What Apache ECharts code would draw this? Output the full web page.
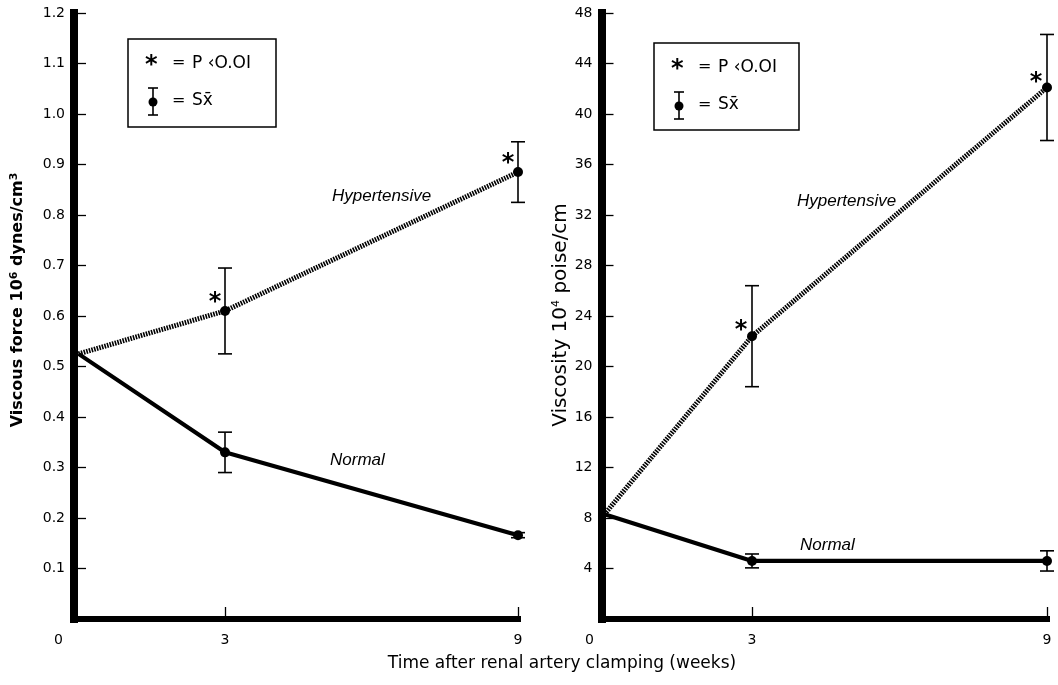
<!DOCTYPE html>
<html>
<head>
<meta charset="utf-8">
<script src="https://cdn.jsdelivr.net/npm/echarts@6/dist/echarts.min.js"></script>
<style>
  html, body { margin: 0; padding: 0; background: #fff; }
  #chart { width: 1058px; height: 685px; }
</style>
</head>
<body>
<div id="chart"></div>
<script>
// weeks after renal artery clamping
var weeks = [0, 3, 9];
var xLabels = [0, 3, 9];
// viscous force, 10^6 dynes/cm^3
var forceHyp = [0.525, 0.61, 0.885];
var forceHypErr = [0, 0.085, 0.06];
var forceNorm = [0.525, 0.33, 0.166];
var forceNormErr = [0, 0.04, 0.005];
// viscosity, 10^4 poise/cm
var viscHyp = [8.3, 22.4, 42.1];
var viscHypErr = [0, 4.0, 4.2];
var viscNorm = [8.3, 4.6, 4.6];
var viscNormErr = [0, 0.55, 0.8];
// weeks with P < 0.01 (hypertensive)
var starWeeks = [3, 9];

var myChart = echarts.init(document.getElementById('chart'));

function pairs(xs, ys) {
    return xs.map(function (x, i) { return [x, ys[i]]; });
}
function errData(xs, ys, es) {
    var out = [];
    for (var i = 0; i < xs.length; i++) {
        if (es[i] > 0) out.push([xs[i], ys[i] - es[i], ys[i] + es[i]]);
    }
    return out;
}
function starData(xs, ys) {
    return starWeeks.map(function (w) { return [w, ys[xs.indexOf(w)]]; });
}

function renderErr(params, api) {
    var x = api.value(0);
    var lo = api.coord([x, api.value(1)]);
    var hi = api.coord([x, api.value(2)]);
    var w = 7;
    var st = { stroke: '#000', lineWidth: 1.6 };
    return {
        type: 'group',
        children: [
            { type: 'line', shape: { x1: lo[0], y1: lo[1], x2: hi[0], y2: hi[1] }, style: st },
            { type: 'line', shape: { x1: lo[0] - w, y1: lo[1], x2: lo[0] + w, y2: lo[1] }, style: st },
            { type: 'line', shape: { x1: hi[0] - w, y1: hi[1], x2: hi[0] + w, y2: hi[1] }, style: st }
        ]
    };
}

var font = 'DejaVu Sans';

function xAxisCfg(grid, shift) {
    return {
        type: 'value', gridIndex: grid, min: 0, max: 9,
        axisLine: { show: true, onZero: false, lineStyle: { color: '#000', width: 6, cap: 'square' } },
        axisTick: { show: true, inside: true, length: 12, customValues: [3, 9], lineStyle: { color: '#000', width: 1.3 } },
        axisLabel: {
            customValues: xLabels, margin: 14, color: '#000', fontFamily: font, fontSize: 14,
            formatter: function (v) { return v === 0 ? '{z|0}' : String(v); },
            rich: { z: { fontFamily: font, fontSize: 14, color: '#000', padding: [0, shift, 0, 0] } }
        },
        splitLine: { show: false }
    };
}

function yAxisCfg(grid, max, step, off, fmt) {
    return {
        type: 'value', gridIndex: grid, min: 0, max: max, interval: step, offset: off,
        axisLine: { show: true, onZero: false, lineStyle: { color: '#000', width: 8, cap: 'square' } },
        axisTick: { show: true, inside: true, length: 12, lineStyle: { color: '#000', width: 1.3 } },
        axisLabel: { margin: 9, color: '#000', fontFamily: font, fontSize: 14, formatter: fmt },
        splitLine: { show: false }
    };
}

function lineSeries(axis, data, dotted) {
    return {
        type: 'line', xAxisIndex: axis, yAxisIndex: axis, data: data,
        symbol: 'circle',
        symbolSize: function (v, p) { return p.dataIndex === 0 ? 0 : 10; },
        itemStyle: { color: '#000' },
        lineStyle: dotted ? { color: '#000', width: 5, type: [1.6, 1.1] } : { color: '#000', width: 4.2 },
        animation: false, z: 3
    };
}
function errSeries(axis, data) {
    return {
        type: 'custom', xAxisIndex: axis, yAxisIndex: axis, data: data,
        encode: { x: 0, y: [1, 2] }, renderItem: renderErr, animation: false, z: 4
    };
}
function starSeries(axis, data, dx, dy) {
    return {
        type: 'scatter', xAxisIndex: axis, yAxisIndex: axis, data: data,
        symbolSize: 0, animation: false, silent: true,
        itemStyle: { color: '#000', opacity: 1 },
        label: {
            show: true, formatter: '*', position: 'inside', offset: [dx, dy],
            color: '#000', opacity: 1, fontFamily: font, fontSize: 24, fontWeight: 'bold'
        }
    };
}

function legendBox(x, y, w, h) {
    function txt(dx, dy, s, f) {
        return { type: 'text', left: x + dx, top: y + dy, style: { text: s, fill: '#000', font: f || '17px "DejaVu Sans"' } };
    }
    var ex = x + 25;
    return [
        { type: 'rect', shape: { x: x, y: y, width: w, height: h }, style: { fill: 'none', stroke: '#000', lineWidth: 1.5 } },
        txt(17, 15, '*', 'bold 24px "DejaVu Sans"'),
        txt(44, 16, '=', '16px "DejaVu Sans"'),
        txt(64, 16, 'P \u2039O.OI'),
        { type: 'line', shape: { x1: ex, y1: y + 49, x2: ex, y2: y + 76 }, style: { stroke: '#000', lineWidth: 1.6 } },
        { type: 'line', shape: { x1: ex - 5, y1: y + 49, x2: ex + 5, y2: y + 49 }, style: { stroke: '#000', lineWidth: 1.6 } },
        { type: 'line', shape: { x1: ex - 5, y1: y + 76, x2: ex + 5, y2: y + 76 }, style: { stroke: '#000', lineWidth: 1.6 } },
        { type: 'circle', shape: { cx: ex, cy: y + 63, r: 4.5 }, style: { fill: '#000' } },
        txt(44, 54, '=', '16px "DejaVu Sans"'),
        txt(64, 53, 'Sx\u0304')
    ];
}

function tag(x, y, s) {
    return { type: 'text', left: x, top: y, style: { text: s, fill: '#000', font: 'italic 17px "Liberation Sans"' } };
}

function axisName(x, y, parts, bold, size) {
    var w = bold ? 'bold' : 'normal';
    return {
        type: 'text', x: x, y: y, rotation: Math.PI / 2,
        style: {
            text: parts, align: 'center', verticalAlign: 'middle', fill: '#000',
            rich: {
                t: { fontFamily: font, fontSize: size, fontWeight: w, fill: '#000' },
                s: { fontFamily: font, fontSize: 11, fontWeight: w, fill: '#000', verticalAlign: 'top', padding: [0, 0, 8, 0] }
            }
        }
    };
}

var graphics = []
    .concat(legendBox(128, 39, 148, 88))
    .concat(legendBox(654, 43, 145, 87))
    .concat([
        tag(332, 188, 'Hypertensive'),
        tag(330, 452, 'Normal'),
        tag(797, 193, 'Hypertensive'),
        tag(800, 537, 'Normal'),
        axisName(18, 300, '{t|Viscous force 10}{s|6}{t| dynes/cm}{s|3}', true, 16),
        axisName(561, 315, '{t|Viscosity 10}{s|4}{t| poise/cm}', false, 20),
        {
            type: 'text', x: 562, y: 664,
            style: {
                text: 'Time after renal artery clamping (weeks)', fill: '#000',
                font: '17px "DejaVu Sans"', align: 'center', verticalAlign: 'middle'
            }
        }
    ]);

option = {
    backgroundColor: '#fff',
    animation: false,
    grid: [
        { left: 78.5, top: 13, width: 439.5, height: 606 },
        { left: 604.5, top: 13, width: 442.5, height: 606 }
    ],
    xAxis: [xAxisCfg(0, 40), xAxisCfg(1, 30)],
    yAxis: [
        yAxisCfg(0, 1.2, 0.1, 4.5, function (v) { return v === 0 ? '' : v.toFixed(1); }),
        yAxisCfg(1, 48, 4, 3, function (v) { return v === 0 ? '' : String(v); })
    ],
    graphic: graphics,
    series: [
        lineSeries(0, pairs(weeks, forceHyp), true),
        lineSeries(0, pairs(weeks, forceNorm), false),
        errSeries(0, errData(weeks, forceHyp, forceHypErr)),
        errSeries(0, errData(weeks, forceNorm, forceNormErr)),
        starSeries(0, starData(weeks, forceHyp), -10, -8),
        lineSeries(1, pairs(weeks, viscHyp), true),
        lineSeries(1, pairs(weeks, viscNorm), false),
        errSeries(1, errData(weeks, viscHyp, viscHypErr)),
        errSeries(1, errData(weeks, viscNorm, viscNormErr)),
        starSeries(1, starData(weeks, viscHyp), -11, -5)
    ]
};
myChart.setOption(option);
</script>
</body>
</html>
